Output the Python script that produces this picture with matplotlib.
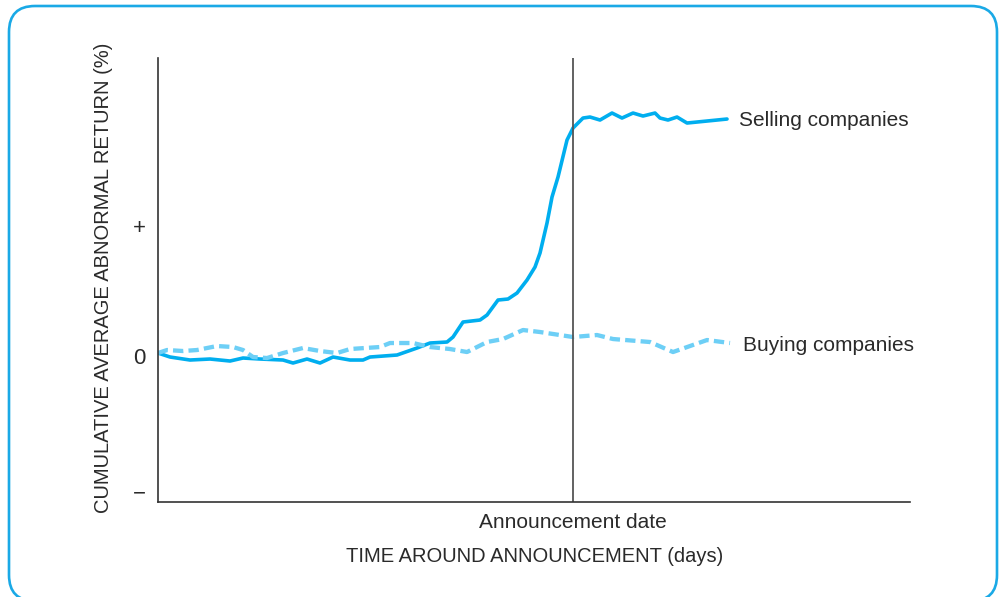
import matplotlib.pyplot as plt
from matplotlib.patches import FancyBboxPatch
from matplotlib.transforms import IdentityTransform

plt.rcParams['font.family'] = ['Liberation Sans', 'DejaVu Sans']

# days relative to announcement, cumulative abnormal return (arbitrary units)
sell_days = [-83, -80.6, -76.6, -72.6, -68.6, -66, -62.6, -58, -56, -53.2, -50.6, -48,
             -44.6, -42, -40.6, -35.2, -31.2, -28.6, -25.2, -24, -22, -18.6, -17.2, -15,
             -13, -11.2, -9.2, -7.6, -6.6, -5.2, -4.2, -3, -1.2, 0, 2, 3.4, 5.4, 7.8,
             9.8, 12, 14, 16.4, 17.4, 19, 20.8, 22.8, 24.8, 30.8]
sell_car = [0.3, -0.1, -0.4, -0.3, -0.5, -0.2, -0.3, -0.4, -0.7, -0.3, -0.7, -0.1,
            -0.4, -0.4, -0.1, 0.1, 0.8, 1.3, 1.4, 1.9, 3.4, 3.6, 4.1, 5.6,
            5.7, 6.3, 7.6, 8.9, 10.3, 13.3, 15.9, 17.9, 21.6, 22.8, 23.8, 23.9, 23.6, 24.3,
            23.8, 24.3, 24.0, 24.3, 23.8, 23.6, 23.9, 23.3, 23.4, 23.7]

buy_days = [-83, -81.2, -78, -75.2, -71.2, -68, -66, -64, -61.2, -58, -54, -50.6,
            -47.2, -44.6, -38.6, -36.6, -32, -28.6, -24.6, -21.2, -17.2, -14, -10,
            -6.6, 0, 4.8, 8, 15.4, 20, 26.8, 31.4]
buy_car = [0.3, 0.6, 0.5, 0.6, 1.0, 0.9, 0.6, -0.1, -0.2, 0.3, 0.8, 0.5,
           0.3, 0.7, 0.9, 1.3, 1.3, 0.9, 0.7, 0.4, 1.4, 1.7, 2.6,
           2.4, 1.9, 2.1, 1.7, 1.4, 0.4, 1.6, 1.3]

ytick_pos = [13, 0, -13.5]
ytick_labels = ['+', '0', '\u2212']

solid_col = '#00aeef'
dash_col = '#6dcff6'
text_col = '#2a2a2a'

fig = plt.figure(figsize=(10.02, 5.97), dpi=100)
ax = fig.add_axes([0.1577, 0.1591, 0.7505, 0.7437])

ax.plot(sell_days, sell_car, color=solid_col, lw=2.6, solid_joinstyle='round',
        solid_capstyle='round')
ax.plot(buy_days, buy_car, color=dash_col, lw=3.1, linestyle=(0, (2.4, 1.2)),
        dash_capstyle='butt')
ax.axvline(0, color='#555555', lw=1.3)

ax.text(33.2, 23.6, 'Selling companies', fontsize=15, color=text_col, va='center')
ax.text(34, 1.1, 'Buying companies', fontsize=15, color=text_col, va='center')

ax.set_xlim(-83, 67.4)
ax.set_ylim(-14.6, 29.8)
for s in ['top', 'right']:
    ax.spines[s].set_visible(False)
for s in ['left', 'bottom']:
    ax.spines[s].set_color('#333333')
    ax.spines[s].set_linewidth(1.2)

ax.set_yticks(ytick_pos, ytick_labels, fontsize=16, color=text_col)
ax.set_xticks([0], ['Announcement date'], fontsize=15, color=text_col)
ax.tick_params(axis='both', length=0)
ax.tick_params(axis='y', pad=9)
ax.tick_params(axis='x', pad=8)

fig.text(104 / 1002, 1 - 278 / 597, 'CUMULATIVE AVERAGE ABNORMAL RETURN (%)',
         rotation=90, ha='center', va='center', fontsize=14.5, color=text_col)
fig.text(535 / 1002, 1 - 557 / 597, 'TIME AROUND ANNOUNCEMENT (days)',
         ha='center', va='center', fontsize=14.5, color=text_col)

box = FancyBboxPatch((9, -4), 988, 595, boxstyle='round,pad=0,rounding_size=26',
                     transform=IdentityTransform(), facecolor='none',
                     edgecolor='#1aa9e6', lw=1.9)
fig.patches.append(box)

fig.savefig('out.png', dpi=100)
